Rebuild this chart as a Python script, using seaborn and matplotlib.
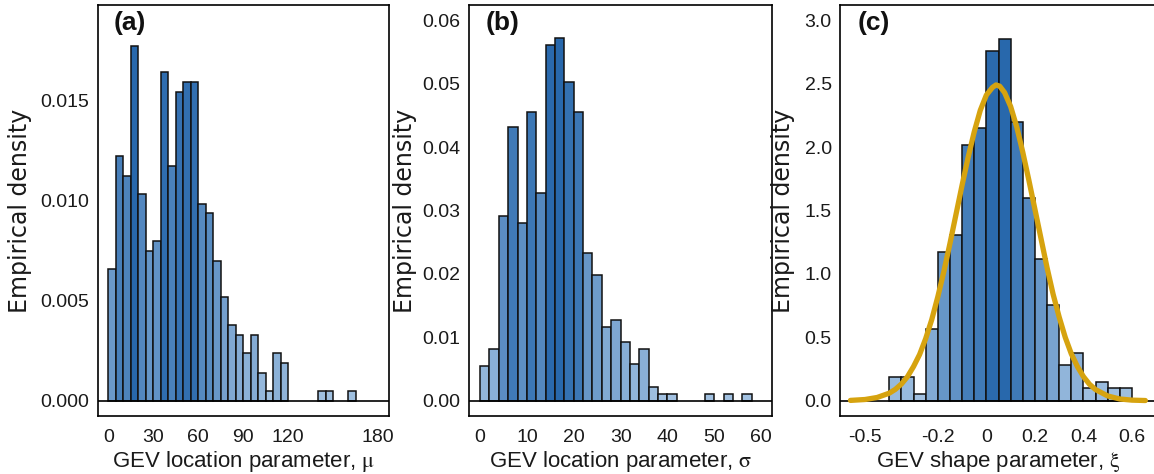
import numpy as np
import pandas as pd
import matplotlib
matplotlib.use("Agg")
import matplotlib.pyplot as plt
import seaborn as sns

# ---------------- data ----------------
# Panel (a): GEV location parameter mu, bins of width 5 starting at 0
a_bin_start = 0
a_bin_width = 5
a_density = [0.0066, 0.0122, 0.0112, 0.0177, 0.0103, 0.0075, 0.0080, 0.0164,
             0.0117, 0.0154, 0.0159, 0.0159, 0.0098, 0.0094, 0.0070, 0.0052,
             0.0038, 0.0033, 0.0024, 0.0033, 0.0014, 0.0005, 0.0024, 0.0019,
             0.0, 0.0, 0.0, 0.0, 0.0005, 0.0005, 0.0, 0.0, 0.0005]
a_xticks = [0, 30, 60, 90, 120, 150, 180]
a_xticklabels = ["0", "30", "60", "90", "120", "", "180"]
a_yticks = [0.000, 0.005, 0.010, 0.015]
a_yticklabels = ["0.000", "0.005", "0.010", "0.015"]

# Panel (b): GEV scale parameter sigma, bins of width 2 starting at 0
b_bin_start = 0
b_bin_width = 2
b_density = [0.0055, 0.0082, 0.0292, 0.0432, 0.0280, 0.0456, 0.0327, 0.0561,
             0.0572, 0.0503, 0.0456, 0.0233, 0.0198, 0.0116, 0.0128, 0.0093,
             0.0058, 0.0082, 0.0022, 0.0010, 0.0010, 0.0, 0.0, 0.0, 0.0010,
             0.0, 0.0010, 0.0, 0.0010]
b_xticks = [0, 10, 20, 30, 40, 50, 60]
b_xticklabels = ["0", "10", "20", "30", "40", "50", "60"]
b_yticks = [0.00, 0.01, 0.02, 0.03, 0.04, 0.05, 0.06]
b_yticklabels = ["0.00", "0.01", "0.02", "0.03", "0.04", "0.05", "0.06"]

# Panel (c): GEV shape parameter xi, bins of width 0.05 starting at -0.4
c_bin_start = -0.4
c_bin_width = 0.05
c_density = [0.19, 0.19, 0.05, 0.565, 1.17, 1.31, 2.015, 2.15, 2.76, 2.85,
             2.20, 1.595, 1.12, 0.755, 0.285, 0.375, 0.097, 0.145, 0.097, 0.097]
# fitted density curve
c_curve_x = [-0.56, -0.50, -0.45, -0.40, -0.375, -0.35, -0.325, -0.30, -0.275,
             -0.25, -0.225, -0.20, -0.175, -0.15, -0.125, -0.10, -0.075, -0.05,
             -0.025, 0.00, 0.025, 0.04, 0.055, 0.075, 0.10, 0.125, 0.15, 0.175,
             0.20, 0.225, 0.25, 0.275, 0.30, 0.325, 0.35, 0.375, 0.40, 0.425,
             0.45, 0.50, 0.55, 0.60, 0.655]
c_curve_y = [0.003, 0.010, 0.026, 0.060, 0.090, 0.132, 0.190, 0.27, 0.365,
             0.49, 0.64, 0.82, 1.02, 1.24, 1.47, 1.70, 1.92, 2.12, 2.29,
             2.41, 2.47, 2.49, 2.48, 2.43, 2.32, 2.16, 1.96, 1.74, 1.51,
             1.28, 1.05, 0.84, 0.66, 0.50, 0.37, 0.27, 0.19, 0.13, 0.088,
             0.038, 0.014, 0.005, 0.002]
c_xticks = [-0.5, -0.4, -0.3, -0.2, -0.1, 0.0, 0.1, 0.2, 0.3, 0.4, 0.5, 0.6]
c_xticklabels = ["-0.5", "", "", "-0.2", "", "0", "", "0.2", "", "0.4", "", "0.6"]
c_yticks = [0.0, 0.5, 1.0, 1.5, 2.0, 2.5, 3.0]
c_yticklabels = ["0.0", "0.5", "1.0", "1.5", "2.0", "2.5", "3.0"]

panel_tags = ["(a)", "(b)", "(c)"]
x_labels = [r"GEV location parameter, $\mathrm{\mu}$",
            r"GEV location parameter, $\mathrm{\sigma}$",
            r"GEV shape parameter, $\mathrm{\xi}$"]
y_label = "Empirical density"

# ---------------- style ----------------
sns.set_style("white")
plt.rcParams["font.family"] = ["Liberation Sans", "DejaVu Sans"]
plt.rcParams["mathtext.fontset"] = "stix"
plt.rcParams["axes.linewidth"] = 1.2
TICK_FS = 14
XLAB_FS = 16
YLAB_FS = 17

W, H = 1154, 474
fig = plt.figure(figsize=(W / 100, H / 100), dpi=100)

def px_axes(left, right, top=5, bottom=416):
    return fig.add_axes([left / W, (H - bottom) / H, (right - left) / W, (bottom - top) / H])

ax_a = px_axes(97.5, 389)
ax_b = px_axes(468.8, 772.4)
ax_c = px_axes(840, 1157)

light = np.array([168, 198, 228]) / 255
dark = np.array([40, 104, 172]) / 255
gold = "#D6A30F"

def draw_hist(ax, start, width, dens):
    dens = [float(v) for v in dens]
    n = len(dens)
    centers = [start + width * (k + 0.5) for k in range(n)]
    df = pd.DataFrame({"x": centers, "w": dens})
    sns.histplot(data=df, x="x", weights="w", binwidth=width,
                 binrange=(start, start + width * n), stat="count", ax=ax,
                 edgecolor="#111111", linewidth=1.1, alpha=1, zorder=2)
    hmax = max(dens)
    for p in ax.patches:
        h = p.get_height()
        if h <= 0:
            p.set_visible(False)
            continue
        t = (h / hmax) ** 0.75
        p.set_facecolor(tuple(light + (dark - light) * t))

draw_hist(ax_a, a_bin_start, a_bin_width, a_density)
draw_hist(ax_b, b_bin_start, b_bin_width, b_density)
draw_hist(ax_c, c_bin_start, c_bin_width, c_density)

sns.lineplot(x=c_curve_x, y=c_curve_y, ax=ax_c, color=gold, linewidth=3.8,
             zorder=4, sort=False)
for ln in ax_c.lines:
    ln.set_solid_capstyle("round")
    ln.set_solid_joinstyle("round")

setups = [
    (ax_a, (-7.2, 187.2), (-0.00076, 0.01976), a_xticks, a_xticklabels, a_yticks, a_yticklabels, -0.225),
    (ax_b, (-2.4, 62.4), (-0.0024, 0.0624), b_xticks, b_xticklabels, b_yticks, b_yticklabels, -0.171),
    (ax_c, (-0.603, 0.703), (-0.12, 3.12), c_xticks, c_xticklabels, c_yticks, c_yticklabels, -0.142),
]

for i, (ax, xl, yl, xt, xtl, yt, ytl, ylx) in enumerate(setups):
    ax.set_xlim(*xl)
    ax.set_ylim(*yl)
    ax.axhline(0, color="black", linewidth=1.2, zorder=3)
    ax.set_xticks(xt)
    ax.set_xticklabels(xtl)
    ax.set_yticks(yt)
    ax.set_yticklabels(ytl)
    ax.tick_params(axis="both", direction="out", length=4.5, width=1.0,
                   colors="black", labelsize=TICK_FS, labelcolor="#1a1a1a")
    ax.tick_params(axis="x", pad=5)
    ax.tick_params(axis="y", pad=1.5)
    for sp in ax.spines.values():
        sp.set_visible(True)
        sp.set_color("black")
        sp.set_linewidth(1.2)
    ax.set_xlabel(x_labels[i], fontsize=XLAB_FS, labelpad=2, color="#1a1a1a")
    ax.set_ylabel(y_label, fontsize=YLAB_FS, color="#1a1a1a",
                  family=["DejaVu Sans"])
    ax.yaxis.set_label_coords(ylx, 0.5)
    ax.text(0.055, 0.985, panel_tags[i], transform=ax.transAxes, ha="left", va="top",
            fontsize=19, fontweight="bold", color="#111111")
    ax.grid(False)

fig.savefig("out.png", dpi=100, facecolor="white")
